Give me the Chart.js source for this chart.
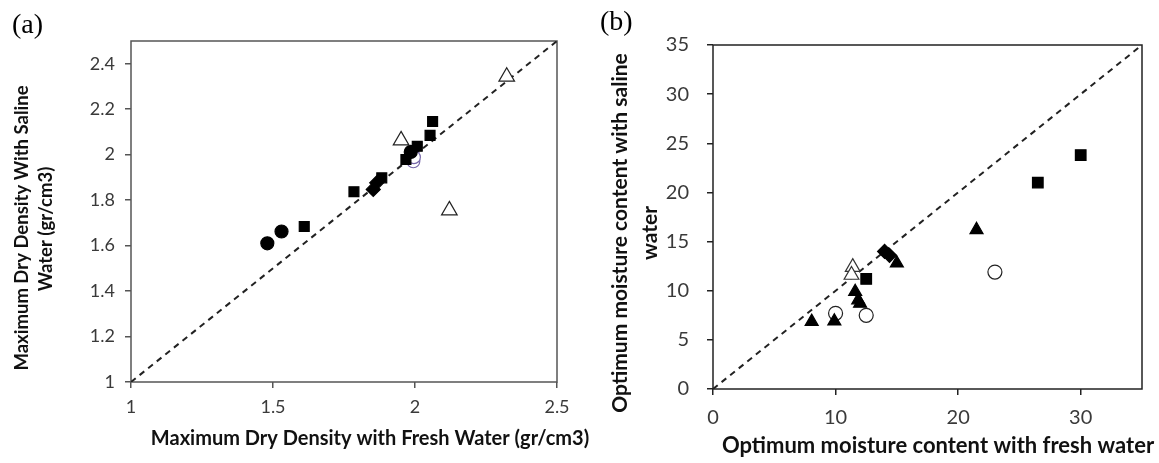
<!DOCTYPE html>
<html>
<head>
<meta charset="utf-8">
<script src="https://cdn.jsdelivr.net/npm/chart.js@4.4.0/dist/chart.umd.min.js"></script>
<style>
  body { margin: 0; background: #fff; width: 1159px; height: 463px; overflow: hidden; position: relative; }
  canvas { position: absolute; top: 0; }
  .tag { position: absolute; font-family: 'Liberation Serif', serif; font-size: 28px; color: #000; line-height: 1; }
</style>
</head>
<body>
<canvas id="chartA" width="590" height="463" style="left:0"></canvas>
<canvas id="chartB" width="569" height="463" style="left:590px"></canvas>
<div class="tag" style="left:12px; top:10px;">(a)</div>
<div class="tag" style="left:600px; top:7px;">(b)</div>
<script>
// Axis ranges and ticks
const densityRange = [1, 2.5];
const densityTicksX = [1, 1.5, 2, 2.5];
const densityTicksY = [1, 1.2, 1.4, 1.6, 1.8, 2, 2.2, 2.4];
const moistureRange = [0, 35];
const moistureTicksX = [0, 10, 20, 30];
const moistureTicksY = [0, 5, 10, 15, 20, 25, 30, 35];

// (a) maximum dry density, fresh (x) vs saline (y)
const aCircleX = [1.48, 1.53, 1.985];
const aCircleY = [1.61, 1.662, 2.012];
const aSquareX = [1.61, 1.785, 1.883, 1.968, 2.008, 2.053, 2.062];
const aSquareY = [1.684, 1.837, 1.898, 1.979, 2.037, 2.085, 2.146];
const aDiamondX = [1.853, 1.865];
const aDiamondY = [1.847, 1.876];
const aOpenTriX = [1.951, 2.323, 2.121];
const aOpenTriY = [2.063, 2.343, 1.755];
const aOpenCircX = [1.994, 1.996];
const aOpenCircY = [1.971, 1.989];

// (b) optimum moisture content, fresh (x) vs saline (y)
const bSquareX = [12.5, 26.5, 30.0];
const bSquareY = [11.2, 21.0, 23.8];
const bTriX = [8.05, 9.9, 11.6, 11.85, 12.0, 15.0, 21.5];
const bTriY = [6.85, 6.9, 9.9, 9.05, 8.7, 12.8, 16.2];
const bDiamondX = [14.0, 14.4];
const bDiamondY = [14.0, 13.6];
const bOpenCircX = [10.0, 12.5, 23.0];
const bOpenCircY = [7.7, 7.5, 11.9];
const bOpenTriX = [11.4, 11.3];
const bOpenTriY = [12.4, 11.6];

const pts = (xs, ys) => xs.map((x, i) => ({ x: x, y: ys[i] }));

// draws the box around the plot area
const framePlugin = {
  id: 'frame',
  beforeDatasetsDraw(chart, args, opts) {
    const a = chart.chartArea;
    const ctx = chart.ctx;
    ctx.save();
    ctx.strokeStyle = opts.color;
    ctx.lineWidth = 1.5;
    ctx.strokeRect(a.left, a.top, a.right - a.left, a.bottom - a.top);
    ctx.restore();
  }
};

// axis titles placed where the original has them
const axisTitlePlugin = {
  id: 'axisTitles',
  afterDraw(chart, args, opts) {
    const ctx = chart.ctx;
    ctx.save();
    ctx.fillStyle = '#111';
    ctx.textAlign = 'center';
    ctx.textBaseline = 'middle';
    opts.items.forEach(it => {
      ctx.save();
      ctx.font = it.font || opts.font;
      ctx.translate(it.x, it.y);
      if (it.rotate) ctx.rotate(-Math.PI / 2);
      ctx.fillText(it.text, 0, 0);
      ctx.restore();
    });
    ctx.restore();
  }
};

function axis(range, ticks, size, fit, isX, pad, color) {
  return {
    type: 'linear',
    min: range[0],
    max: range[1],
    afterBuildTicks: s => { s.ticks = ticks.map(v => ({ value: v })); },
    afterFit: s => { if (isX) s.height = fit; else s.width = fit; },
    border: { display: false },
    grid: { drawOnChartArea: false, drawTicks: true, tickLength: 6, color: color, lineWidth: 1.5 },
    ticks: {
      padding: pad,
      color: '#3a3a3a',
      font: { family: 'Lato', size: size },
      callback: v => String(v)
    }
  };
}

function marker(data, style, radius, fill, stroke) {
  return {
    data: data,
    pointStyle: style,
    pointRadius: radius,
    pointHoverRadius: radius,
    pointBackgroundColor: fill,
    pointBorderColor: stroke,
    pointBorderWidth: 1.2,
    showLine: false
  };
}

function diagonal(range) {
  return {
    data: [{ x: range[0], y: range[0] }, { x: range[1], y: range[1] }],
    showLine: true,
    borderColor: '#222',
    borderWidth: 2,
    borderDash: [6, 5],
    pointRadius: 0
  };
}

new Chart(document.getElementById('chartA'), {
  type: 'scatter',
  data: {
    datasets: [
      marker(pts(aOpenTriX, aOpenTriY), 'triangle', 9, '#fff', '#222'),
      marker(pts(aSquareX, aSquareY), 'rect', 7, '#000', '#000'),
      marker(pts(aCircleX, aCircleY), 'circle', 6.5, '#000', '#000'),
      marker(pts(aDiamondX, aDiamondY), 'rectRot', 7, '#000', '#000'),
      marker(pts(aOpenCircX, aOpenCircY), 'circle', 6.5, '#fff', '#7566a8'),
      diagonal(densityRange)
    ]
  },
  options: {
    responsive: false,
    animation: false,
    layout: { padding: { left: 0, top: 41, right: 33, bottom: 0 } },
    scales: {
      x: axis(densityRange, densityTicksX, 18, 81, true, 8, '#555'),
      y: axis(densityRange, densityTicksY, 18, 131, false, 10, '#555')
    },
    plugins: {
      legend: { display: false },
      tooltip: { enabled: false },
      frame: { color: '#555' },
      axisTitles: {
        font: 'bold 20px Lato',
        items: [
          { text: 'Maximum Dry Density with Fresh Water (gr/cm3)', x: 370, y: 439 },
          { text: 'Maximum Dry Density With Saline', x: 22, y: 228, rotate: true, font: 'bold 18.5px Lato' },
          { text: 'Water (gr/cm3)', x: 46, y: 229, rotate: true, font: 'bold 18.5px Lato' }
        ]
      }
    }
  },
  plugins: [framePlugin, axisTitlePlugin]
});

new Chart(document.getElementById('chartB'), {
  type: 'scatter',
  data: {
    datasets: [
      marker(pts(bSquareX, bSquareY), 'rect', 7.5, '#000', '#000'),
      marker(pts(bTriX, bTriY), 'triangle', 7.5, '#000', '#000'),
      marker(pts(bDiamondX, bDiamondY), 'rectRot', 7, '#000', '#000'),
      marker(pts(bOpenCircX, bOpenCircY), 'circle', 7, '#fff', '#222'),
      marker(pts(bOpenTriX, bOpenTriY), 'triangle', 8.5, '#fff', '#333'),
      diagonal(moistureRange)
    ]
  },
  options: {
    responsive: false,
    animation: false,
    layout: { padding: { left: 0, top: 45, right: 17, bottom: 0 } },
    scales: {
      x: axis(moistureRange, moistureTicksX, 20, 74, true, 11, '#222'),
      y: axis(moistureRange, moistureTicksY, 20, 123, false, 18, '#222')
    },
    plugins: {
      legend: { display: false },
      tooltip: { enabled: false },
      frame: { color: '#222' },
      axisTitles: {
        font: 'bold 22px Lato',
        items: [
          { text: 'Optimum moisture content with fresh water', x: 348, y: 446 },
          { text: 'Optimum moisture content with saline', x: 30, y: 233, rotate: true, font: 'bold 21px Lato' },
          { text: 'water', x: 60, y: 233, rotate: true, font: 'bold 21px Lato' }
        ]
      }
    }
  },
  plugins: [framePlugin, axisTitlePlugin]
});
</script>
</body>
</html>
